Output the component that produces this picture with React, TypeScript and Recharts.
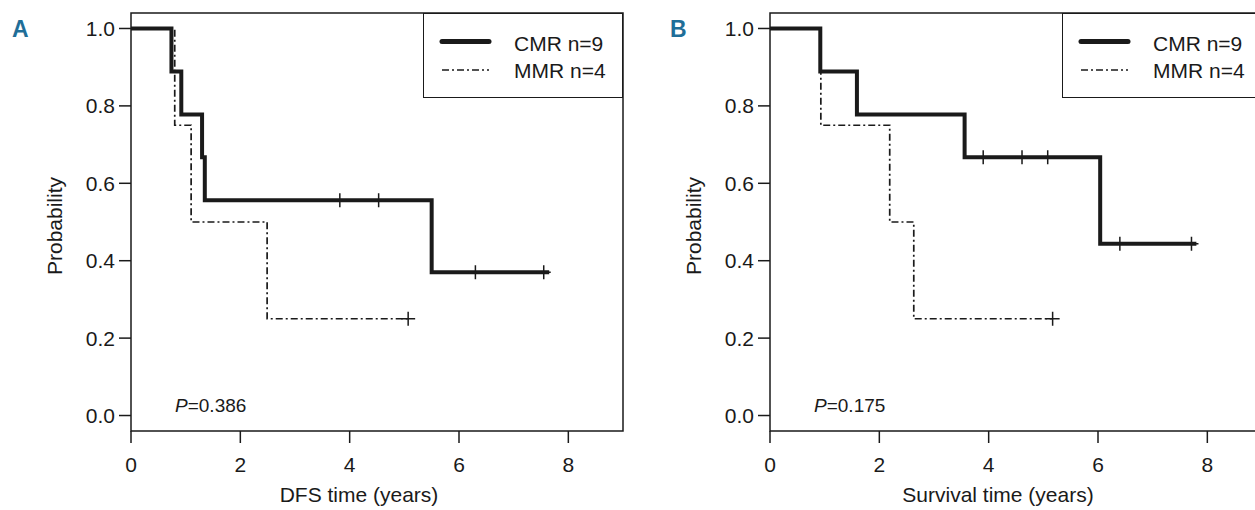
import React from 'react';
import { ComposedChart, Line, Scatter, XAxis, YAxis, ReferenceArea, ReferenceDot, Legend } from 'recharts';

const FONT = '"Liberation Sans", Arial, sans-serif';
const FS = 21;
const INK = '#1a1a1a';
const TEAL = '#1f6e98';

const xTicks = [0, 2, 4, 6, 8];
const yTicks = [0, 0.2, 0.4, 0.6, 0.8, 1.0];
const xDomain: [number, number] = [0, 9];
const yDomain: [number, number] = [-0.04, 1.04];
const seriesNames = ['CMR n=9', 'MMR n=4'];
const panelLetters = ['A', 'B'];
const xTitles = ['DFS time (years)', 'Survival time (years)'];
const yTitle = 'Probability';
const pValues = ['0.386', '0.175'];

// Panel A: disease-free survival
const dfsCmr = [
  { t: 0, p: 1 },
  { t: 0.74, p: 0.889 },
  { t: 0.92, p: 0.778 },
  { t: 1.3, p: 0.667 },
  { t: 1.35, p: 0.556 },
  { t: 5.5, p: 0.37 },
  { t: 7.65, p: 0.37 },
];
const dfsCmrCensor = [
  { t: 3.82, p: 0.556 },
  { t: 4.53, p: 0.556 },
  { t: 6.3, p: 0.37 },
  { t: 7.55, p: 0.37 },
];
const dfsMmr = [
  { t: 0, p: 1 },
  { t: 0.8, p: 0.75 },
  { t: 1.1, p: 0.5 },
  { t: 2.49, p: 0.25 },
  { t: 5.07, p: 0.25 },
];
const dfsMmrCensor = [{ t: 5.07, p: 0.25 }];

// Panel B: overall survival
const osCmr = [
  { t: 0, p: 1 },
  { t: 0.92, p: 0.889 },
  { t: 1.59, p: 0.778 },
  { t: 3.56, p: 0.667 },
  { t: 6.04, p: 0.444 },
  { t: 7.8, p: 0.444 },
];
const osCmrCensor = [
  { t: 3.9, p: 0.667 },
  { t: 4.61, p: 0.667 },
  { t: 5.08, p: 0.667 },
  { t: 6.4, p: 0.444 },
  { t: 7.71, p: 0.444 },
];
const osMmr = [
  { t: 0, p: 1 },
  { t: 0.93, p: 0.75 },
  { t: 2.19, p: 0.5 },
  { t: 2.63, p: 0.25 },
  { t: 5.17, p: 0.25 },
];
const osMmrCensor = [{ t: 5.17, p: 0.25 }];

const panels = [
  { cmr: dfsCmr, cmrC: dfsCmrCensor, mmr: dfsMmr, mmrC: dfsMmrCensor },
  { cmr: osCmr, cmrC: osCmrCensor, mmr: osMmr, mmrC: osMmrCensor },
];

const Plus = (props: any) => {
  const { cx, cy } = props;
  if (cx == null || cy == null) return null;
  return (
    <path
      d={`M${cx - 7},${cy}H${cx + 7}M${cx},${cy - 7}V${cy + 7}`}
      stroke={INK}
      strokeWidth={1.5}
      fill="none"
    />
  );
};

const XTitle = (props: any) => {
  const { viewBox, text } = props;
  if (!viewBox) return null;
  const { x, y, width } = viewBox;
  return (
    <text x={x + width / 2 - 18} y={y + 71} textAnchor="middle" fontFamily={FONT} fontSize={FS} fill={INK}>
      {text}
    </text>
  );
};

const YTitle = (props: any) => {
  const { viewBox, text } = props;
  if (!viewBox) return null;
  const { x, y, height } = viewBox;
  const tx = x - 9;
  const ty = y + height / 2 + 4;
  return (
    <text
      x={tx}
      y={ty}
      textAnchor="middle"
      fontFamily={FONT}
      fontSize={FS}
      fill={INK}
      transform={`rotate(-90, ${tx}, ${ty})`}
    >
      {text}
    </text>
  );
};

const PLabel = (props: any) => {
  const { viewBox, value } = props;
  if (!viewBox) return null;
  const cx = viewBox.x + (viewBox.width || 0) / 2;
  const cy = viewBox.y + (viewBox.height || 0) / 2;
  return (
    <text x={cx + 44} y={cy - 4} fontFamily={FONT} fontSize={19} fill={INK}>
      <tspan fontStyle="italic">P</tspan>
      <tspan>={value}</tspan>
    </text>
  );
};

const LegendBox = () => (
  <div
    style={{
      width: 200,
      height: 85,
      boxSizing: 'border-box',
      border: `1.5px solid ${INK}`,
      background: '#fff',
    }}
  >
    <svg width={197} height={82} style={{ display: 'block' }}>
      <line x1={18} x2={65} y1={27.5} y2={27.5} stroke={INK} strokeWidth={5} strokeLinecap="round" />
      <line x1={18} x2={65} y1={56} y2={56} stroke={INK} strokeWidth={1.5} strokeDasharray="7 3 2 3" />
      <text x={90} y={36.5} fontFamily={FONT} fontSize={FS} fill={INK}>
        {seriesNames[0]}
      </text>
      <text x={90} y={63.5} fontFamily={FONT} fontSize={FS} fill={INK}>
        {seriesNames[1]}
      </text>
    </svg>
  </div>
);

const Panel = ({ idx }: { idx: number }) => {
  const d = panels[idx];
  const tickStyle = { fontFamily: FONT, fontSize: FS, fill: INK };
  return (
    <ComposedChart width={640} height={510} margin={{ top: 13, right: 17, bottom: 4, left: 71 }}>
      <XAxis
        type="number"
        dataKey="t"
        domain={xDomain}
        ticks={xTicks}
        allowDataOverflow
        axisLine={false}
        tickLine={{ stroke: INK, strokeWidth: 1.5 }}
        tickSize={12}
        tickMargin={14}
        height={75}
        tick={tickStyle}
        label={<XTitle text={xTitles[idx]} />}
      />
      <YAxis
        type="number"
        dataKey="p"
        domain={yDomain}
        ticks={yTicks}
        allowDataOverflow
        axisLine={false}
        tickLine={{ stroke: INK, strokeWidth: 1.5 }}
        tickSize={12}
        tickMargin={4}
        width={60}
        tick={tickStyle}
        tickFormatter={(v: number) => v.toFixed(1)}
        label={<YTitle text={yTitle} />}
      />
      <ReferenceArea
        x1={xDomain[0]}
        x2={xDomain[1]}
        y1={yDomain[0]}
        y2={yDomain[1]}
        fill="none"
        fillOpacity={0}
        stroke={INK}
        strokeWidth={1.5}
        ifOverflow="visible"
      />
      <Line
        data={d.mmr}
        dataKey="p"
        type="stepAfter"
        stroke={INK}
        strokeWidth={1.7}
        strokeDasharray="7 3 2 3"
        dot={false}
        activeDot={false}
        isAnimationActive={false}
        name={seriesNames[1]}
      />
      <Line
        data={d.cmr}
        dataKey="p"
        type="stepAfter"
        stroke={INK}
        strokeWidth={4}
        strokeLinejoin="miter"
        dot={false}
        activeDot={false}
        isAnimationActive={false}
        name={seriesNames[0]}
      />
      <Scatter data={d.mmrC} dataKey="p" shape={<Plus />} isAnimationActive={false} legendType="none" />
      <Scatter data={d.cmrC} dataKey="p" shape={<Plus />} isAnimationActive={false} legendType="none" />
      <ReferenceDot
        x={0}
        y={0}
        r={0}
        fill="none"
        stroke="none"
        ifOverflow="visible"
        label={<PLabel value={pValues[idx]} />}
      />
      <Legend
        layout="vertical"
        align="center"
        verticalAlign="middle"
        wrapperStyle={{ left: 423, top: 13, width: 200, height: 85 }}
        content={() => <LegendBox />}
      />
    </ComposedChart>
  );
};

const letterStyle = (left: number): React.CSSProperties => ({
  position: 'absolute',
  left,
  top: 18,
  fontFamily: FONT,
  fontWeight: 700,
  fontSize: 23,
  lineHeight: '23px',
  color: TEAL,
});

export default function App() {
  return (
    <div
      style={{
        position: 'absolute',
        left: 0,
        top: 0,
        width: 1255,
        height: 510,
        overflow: 'hidden',
        background: '#fff',
      }}
    >
      <div style={{ position: 'absolute', left: 0, top: 0 }}>
        <Panel idx={0} />
      </div>
      <div style={{ position: 'absolute', left: 639, top: 0 }}>
        <Panel idx={1} />
      </div>
      <div style={letterStyle(12)}>{panelLetters[0]}</div>
      <div style={letterStyle(670)}>{panelLetters[1]}</div>
    </div>
  );
}
